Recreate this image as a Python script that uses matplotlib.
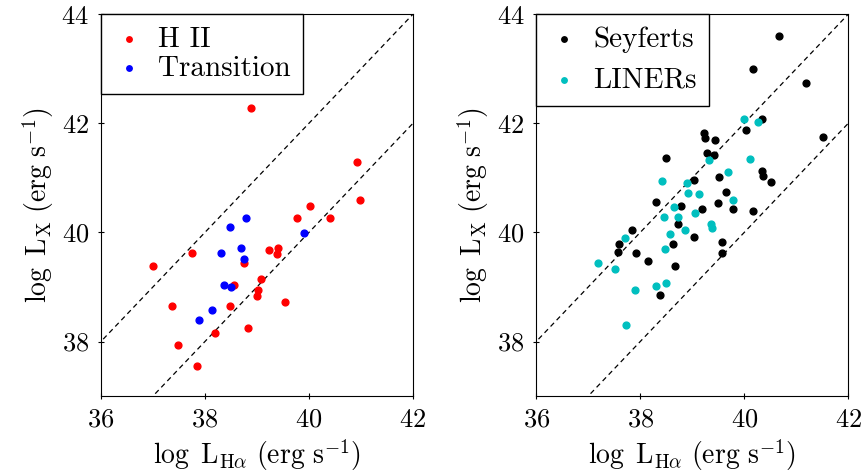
import numpy as np
import matplotlib
matplotlib.use('Agg')
import matplotlib.pyplot as plt

plt.rcParams['font.family'] = 'serif'
plt.rcParams['font.serif'] = ['cmr10']
plt.rcParams['mathtext.fontset'] = 'cm'
plt.rcParams['axes.formatter.use_mathtext'] = True

# left panel: HII and transition objects
hii_x = [37.01, 37.76, 38.75, 38.56, 37.36, 38.49, 38.20, 38.83, 37.48, 37.84, 38.88, 40.92,
         40.98, 40.02, 39.77, 40.40, 39.24, 39.41, 39.38, 39.08, 39.02, 39.00, 39.55]
hii_y = [39.39, 39.63, 39.44, 39.03, 38.65, 38.65, 38.16, 38.25, 37.93, 37.56, 42.29, 41.30,
         40.59, 40.49, 40.26, 40.26, 39.68, 39.71, 39.60, 39.15, 38.95, 38.84, 38.73]
trans_x = [38.80, 38.48, 38.31, 38.69, 38.75, 38.37, 38.51, 38.14, 37.88, 39.90]
trans_y = [40.26, 40.10, 39.63, 39.71, 39.52, 39.03, 39.00, 38.58, 38.40, 39.99]

# right panel: Seyferts and LINERs
sey_x = [38.50, 39.04, 38.30, 38.78, 38.73, 37.85, 37.59, 37.57, 39.04, 38.63, 37.92, 38.15,
         38.66, 38.39, 40.67, 40.17, 41.19, 40.35, 40.04, 41.52, 39.22, 39.24, 39.44, 39.29,
         39.41, 40.34, 40.37, 40.51, 39.52, 39.65, 39.49, 39.19, 39.79, 40.17, 39.58, 39.57]
sey_y = [41.36, 40.96, 40.55, 40.49, 40.16, 40.04, 39.79, 39.65, 39.92, 39.79, 39.63, 39.47,
         39.39, 38.86, 43.60, 43.00, 42.74, 42.08, 41.87, 41.75, 41.83, 41.74, 41.69, 41.46,
         41.42, 41.13, 41.04, 40.93, 41.01, 40.74, 40.54, 40.43, 40.43, 40.40, 39.83, 39.63]
lin_x = [38.42, 38.90, 38.91, 38.65, 38.46, 38.72, 39.06, 37.71, 38.58, 38.86, 38.47, 37.18,
         37.51, 38.50, 38.31, 37.90, 37.73, 39.99, 40.26, 39.33, 40.12, 39.69, 39.13, 39.79,
         39.37, 39.38]
lin_y = [40.95, 40.91, 40.73, 40.47, 40.29, 40.29, 40.35, 39.89, 39.97, 40.04, 39.70, 39.44,
         39.33, 39.08, 39.02, 38.95, 38.31, 42.08, 42.03, 41.32, 41.35, 41.11, 40.70, 40.59,
         40.16, 40.09]

# dashed guide lines: log Lx = log Lha + offset
offsets = [0, 2]
xline = np.array([35, 43])

fig = plt.figure(figsize=(8.62, 4.75), dpi=100)
ax1 = fig.add_axes([0.117, 0.166, 0.362, 0.804])
ax2 = fig.add_axes([0.622, 0.166, 0.362, 0.804])

ax1.scatter(hii_x, hii_y, s=24, c='r', label='H II', zorder=3)
ax1.scatter(trans_x, trans_y, s=24, c='b', label='Transition', zorder=3)
ax2.scatter(sey_x, sey_y, s=24, c='k', label='Seyferts', zorder=3)
ax2.scatter(lin_x, lin_y, s=24, c='c', label='LINERs', zorder=3)

for ax in (ax1, ax2):
    for off in offsets:
        ax.plot(xline, xline + off, 'k', ls=(0, (4, 3)), lw=0.9)
    ax.set_xlim(36, 42)
    ax.set_ylim(37, 44)
    ax.set_xticks([36, 38, 40, 42])
    ax.set_yticks([38, 40, 42, 44])
    ax.tick_params(direction='inout', length=5, labelsize=19, pad=6)
    ax.set_xlabel(r'$\log\ \mathrm{L}_{\mathrm{H}\alpha}\ (\mathrm{erg\ s}^{-1})$', fontsize=20)
    ax.set_ylabel(r'$\log\ \mathrm{L_X}\ (\mathrm{erg\ s}^{-1})$', fontsize=20)

ax1.legend(loc='upper left', borderaxespad=0, fancybox=False, edgecolor='k', framealpha=1,
           fontsize=21, handlelength=1.1, handletextpad=0.45, labelspacing=0.08,
           markerscale=0.8, borderpad=0.42)
ax2.legend(loc='upper left', borderaxespad=0, fancybox=False, edgecolor='k', framealpha=1,
           fontsize=21, handlelength=1.1, handletextpad=0.45, labelspacing=0.5,
           markerscale=0.8, borderpad=0.42)

plt.savefig('out.png', dpi=100)
